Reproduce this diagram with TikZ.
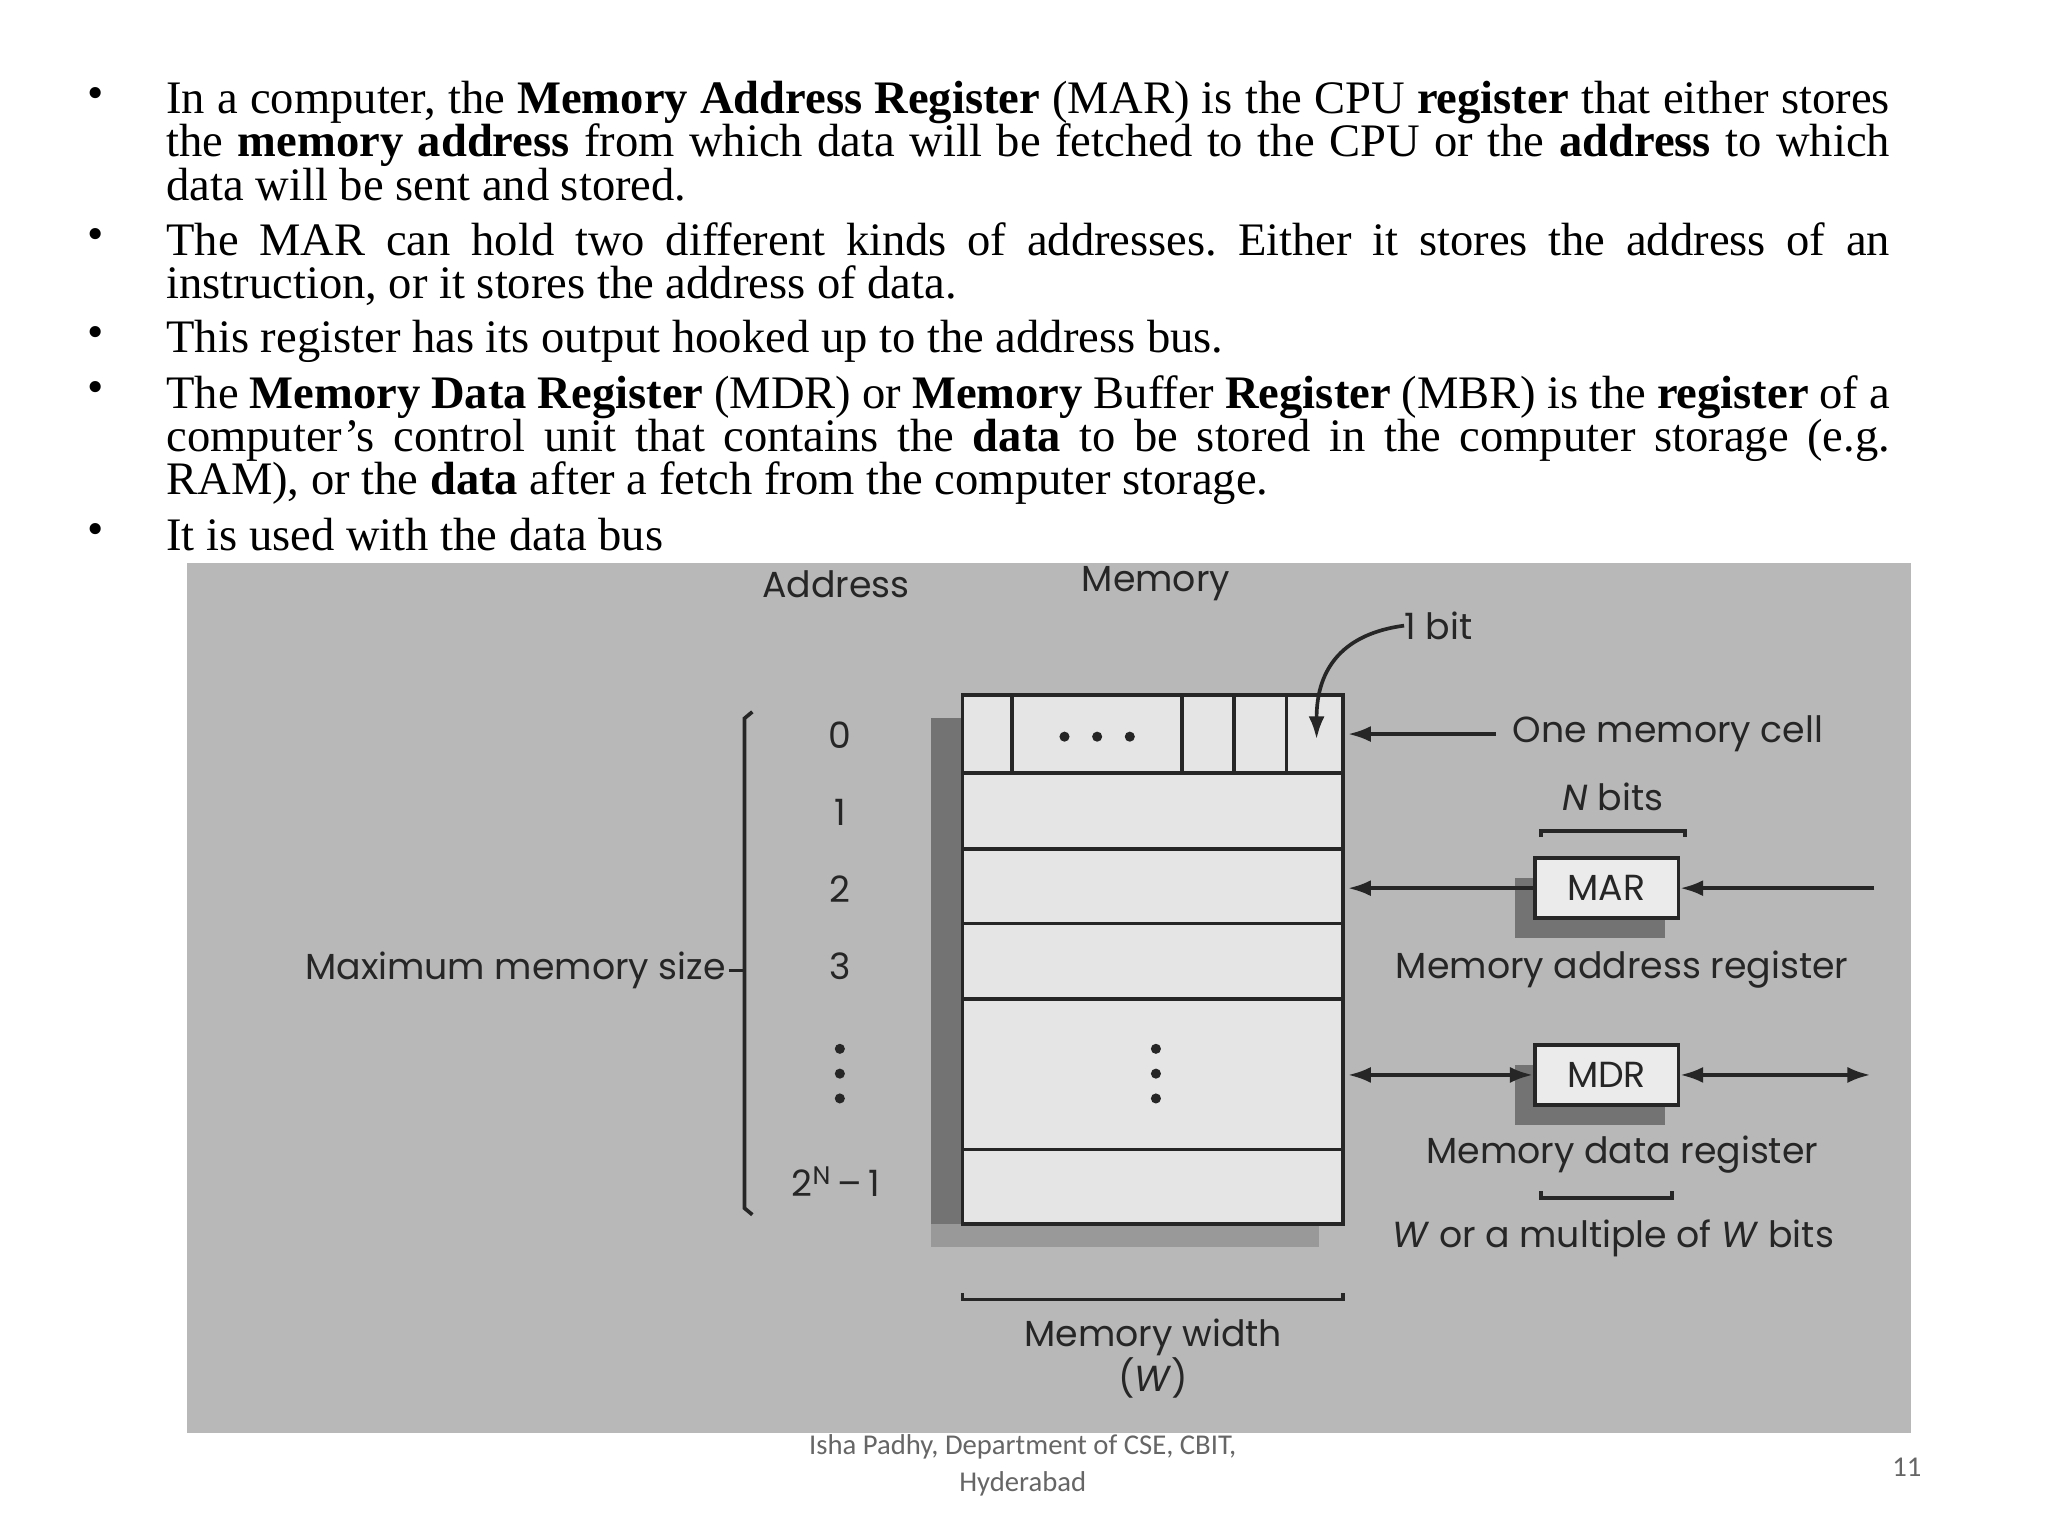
\documentclass[tikz,border=0pt]{standalone}
\usepackage{fontspec}
\usepackage[none]{hyphenat}
\setmainfont{Liberation Serif}
\newfontfamily\diag{Poppins}
\newfontfamily\foot{Carlito}
\usetikzlibrary{arrows.meta}
\frenchspacing
\begin{document}
\begin{tikzpicture}[x=0.02cm,y=-0.02cm,
  bul/.style={anchor=north west,inner sep=0,text width=26.4cm,align=justify,font=\fontsize{20.3}{18.8}\selectfont},
  dot/.style={inner sep=0,font=\fontsize{20.3}{18.8}\selectfont},
  lab/.style={inner sep=0,font=\diag\fontsize{15.8}{16}\selectfont,text=black!85},
  ln/.style={line width=1.6pt,draw=black!85},
  arr/.style={ln,-{Latex[length=10pt,width=7pt]}},
  darr/.style={ln,{Latex[length=10pt,width=7pt]}-{Latex[length=10pt,width=7pt]}}]
\useasboundingbox (0,0) rectangle (1568,1176);
\fill[white] (0,0) rectangle (1568,1176);
% bullets
\foreach \y in {75,183,258,300,409} \node[dot] (d\y) at (73,\y) {\textbullet};
\node[bul] (b1) at (127,62) {In a computer, the \textbf{Memory Address Register} (MAR) is the CPU \textbf{register} that either stores\linebreak the \textbf{memory address} from which data will be fetched to the CPU or the \textbf{address} to which\linebreak data will be sent and stored.};
\node[bul] (b2) at (127,170) {The MAR can hold two different kinds of addresses. Either it stores the address of an\linebreak instruction, or it stores the address of data.};
\node[bul] (b3) at (127,245) {This register has its output hooked up to the address bus.};
\node[bul] (b4) at (127,287) {The \textbf{Memory Data Register} (MDR) or \textbf{Memory} Buffer \textbf{Register} (MBR) is the \textbf{register} of a\linebreak computer's control unit that contains the \textbf{data} to be stored in the computer storage (e.g.\linebreak RAM), or the \textbf{data} after a fetch from the computer storage.};
\node[bul] (b5) at (127,396) {It is used with the data bus};
% diagram background
\fill[black!28] (143,431) rectangle (1463,1097);
% memory shadow and box
\fill[black!55] (713,550) rectangle (737,955);
\fill[black!40] (713,937) rectangle (1010,955);
\fill[black!10] (737,532) rectangle (1028,937);
\draw[ln] (737,532) rectangle (1028,937);
\foreach \y in {592,650,707,765,880} \draw[ln] (737,\y) -- (1028,\y);
\foreach \x in {775,905,945,985} \draw[ln] (\x,532) -- (\x,592);
\foreach \x in {815,840,865} \fill[black!85] (\x,564) circle (2.2pt);
\foreach \y in {803,822,841} {\fill[black!85] (885,\y) circle (2.2pt); \fill[black!85] (643,\y) circle (2.2pt);}
% top labels
\node[lab] (addr) at (640,447) {Address};
\node[lab] (mem) at (885,447) {Memory};
\node[lab,anchor=west] (bit) at (1075,479) {1 bit};
\coordinate (bitend) at (1008,566);
\draw[arr] (bit.west) .. controls (1030,485) and (1008,510) .. (bitend);
% addresses
\node[lab] (a0) at (643,563) {0};
\node[lab] (a1) at (643,622) {1};
\node[lab] (a2) at (643,681) {2};
\node[lab] (a3) at (643,740) {3};
\node[lab] (aN) at (640,905) {2\textsuperscript{N}\,–\,1};
\draw[ln] (576,545) -- (570,550) -- (570,925) -- (576,930);
\node[lab,anchor=east] (maxm) at (556,743) {Maximum memory size};
\draw[ln] (558,743) -- (570,743);
% right side
\node[lab,anchor=west] (cell) at (1158,562) {One memory cell};
\coordinate (c0) at (1032,562);
\draw[arr] (1145,562) -- (c0);
\node[lab] (nbits) at (1235,610) {\textit{N} bits};
\draw[ln] (1180,641) -- (1180,636) -- (1290,636) -- (1290,641);
\fill[black!55] (1160,672) rectangle (1275,718);
\node[draw=black!85,line width=1.6pt,fill=black!8,minimum width=2.2cm,minimum height=0.92cm,lab] (mar) at (1230,680) {MAR};
\coordinate (m0) at (1032,680);
\coordinate (m1) at (1435,680);
\draw[arr] (mar.west) -- (m0);
\draw[arr] (m1) -- (mar.east);
\node[lab] (marl) at (1242,742) {Memory address register};
\fill[black!55] (1160,815) rectangle (1275,861);
\node[draw=black!85,line width=1.6pt,fill=black!8,minimum width=2.2cm,minimum height=0.92cm,lab] (mdr) at (1230,823) {MDR};
\coordinate (r0) at (1032,823);
\coordinate (r1) at (1432,823);
\draw[darr] (r0) -- (mdr.west);
\draw[darr] (mdr.east) -- (r1);
\node[lab] (mdrl) at (1242,884) {Memory data register};
\draw[ln] (1180,912) -- (1180,917) -- (1280,917) -- (1280,912);
\node[lab] (wbits) at (1235,948) {\textit{W} or a multiple of \textit{W} bits};
\draw[ln] (737,990) -- (737,995) -- (1028,995) -- (1028,990);
\node[lab,align=center] (mw) at (883,1040) {Memory width\\(\textit{W})};
% footer
\node[inner sep=0,align=center,font=\foot\fontsize{12.5}{16}\selectfont,text=black!60] (ft) at (783,1122) {Isha Padhy, Department of CSE, CBIT,\\Hyderabad};
\node[inner sep=0,font=\foot\fontsize{12.5}{16}\selectfont,text=black!60] (pg) at (1460,1123) {11};
\end{tikzpicture}
\end{document}
